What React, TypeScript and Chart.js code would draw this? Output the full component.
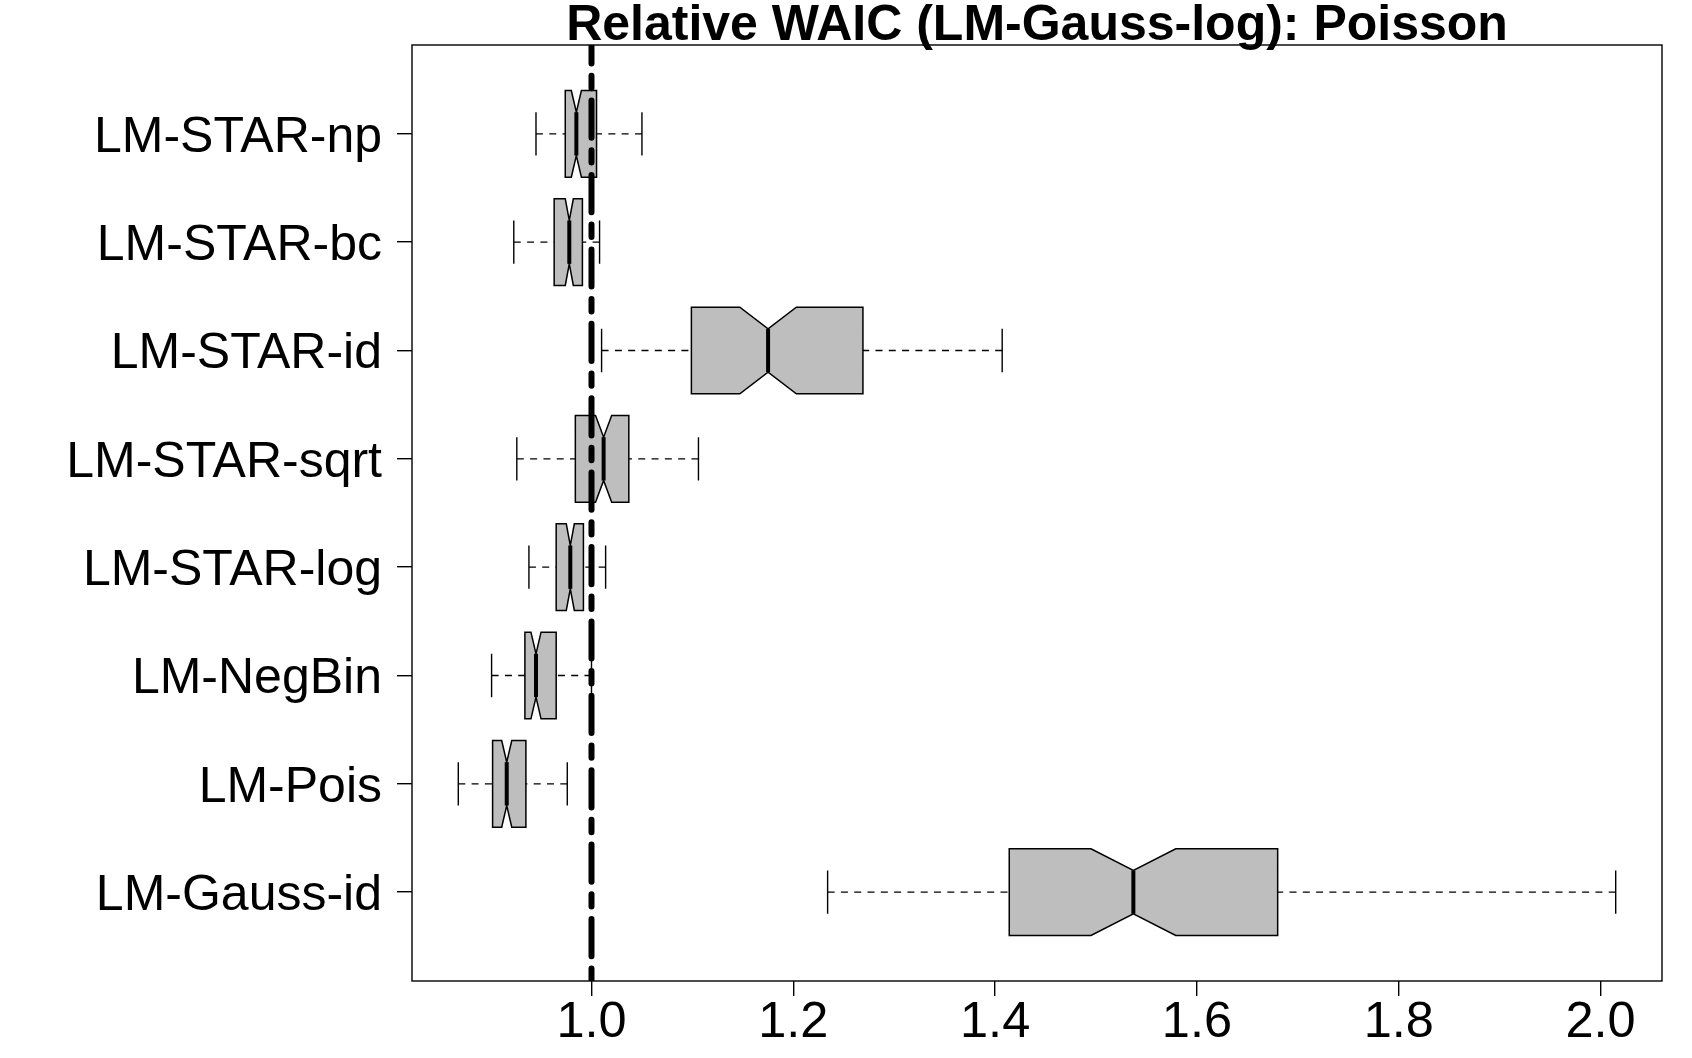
import { useEffect, useRef } from "react";
import { Chart, registerables } from "chart.js";

Chart.register(...registerables);

// Models, bottom (position 1) to top (position 8)
const models = [
  "LM-Gauss-id",
  "LM-Pois",
  "LM-NegBin",
  "LM-STAR-log",
  "LM-STAR-sqrt",
  "LM-STAR-id",
  "LM-STAR-bc",
  "LM-STAR-np",
];

// Five-number summaries of relative WAIC per model
const whiskerLow = [1.234, 0.868, 0.901, 0.938, 0.926, 1.01, 0.923, 0.945];
const quartile1 = [1.414, 0.902, 0.934, 0.965, 0.984, 1.099, 0.963, 0.974];
const medians = [1.537, 0.916, 0.945, 0.979, 1.012, 1.175, 0.978, 0.985];
const quartile3 = [1.68, 0.935, 0.965, 0.992, 1.037, 1.269, 0.991, 1.005];
const whiskerHigh = [2.015, 0.976, 1.0, 1.014, 1.106, 1.407, 1.008, 1.05];

// Notch limits around each median
const notchLow = [1.495, 0.911, 0.94, 0.975, 1.004, 1.147, 0.974, 0.98];
const notchHigh = [1.579, 0.921, 0.95, 0.983, 1.02, 1.203, 0.982, 0.99];

const xTicks = [1.0, 1.2, 1.4, 1.6, 1.8, 2.0];
const referenceValue = 1.0;
const chartTitle = "Relative WAIC (LM-Gauss-log): Poisson";

const FONT = '"Liberation Sans", Arial, Helvetica, sans-serif';
const BOX_FILL = "#BEBEBE";

// x range padded by 4% of the data span, y range padded by 4% around the box slots
const dataMin = Math.min(...whiskerLow);
const dataMax = Math.max(...whiskerHigh);
const xPad = 0.04 * (dataMax - dataMin);
const yMin = 0.5 - 0.04 * models.length;
const yMax = models.length + 0.5 + 0.04 * models.length;

const notchedBoxes = {
  id: "notchedBoxes",
  afterDatasetsDraw(chart: any) {
    const { ctx, chartArea } = chart;
    const xs = chart.scales.x;
    const ys = chart.scales.y;
    const px = (v: number) => xs.getPixelForValue(v);
    const slot = Math.abs(ys.getPixelForValue(1) - ys.getPixelForValue(2));
    const half = slot * 0.4;
    const capHalf = half * 0.5;

    ctx.save();
    ctx.beginPath();
    ctx.rect(chartArea.left, chartArea.top, chartArea.width, chartArea.height);
    ctx.clip();
    ctx.strokeStyle = "#000";

    models.forEach((_, i) => {
      const cy = ys.getPixelForValue(i + 1);

      // notched box
      ctx.setLineDash([]);
      ctx.lineJoin = "miter";
      ctx.beginPath();
      ctx.moveTo(px(quartile1[i]), cy - half);
      ctx.lineTo(px(notchLow[i]), cy - half);
      ctx.lineTo(px(medians[i]), cy - half / 2);
      ctx.lineTo(px(notchHigh[i]), cy - half);
      ctx.lineTo(px(quartile3[i]), cy - half);
      ctx.lineTo(px(quartile3[i]), cy + half);
      ctx.lineTo(px(notchHigh[i]), cy + half);
      ctx.lineTo(px(medians[i]), cy + half / 2);
      ctx.lineTo(px(notchLow[i]), cy + half);
      ctx.lineTo(px(quartile1[i]), cy + half);
      ctx.closePath();
      ctx.fillStyle = BOX_FILL;
      ctx.fill();
      ctx.lineWidth = 1.5;
      ctx.stroke();

      // median
      ctx.lineWidth = 4;
      ctx.lineCap = "butt";
      ctx.beginPath();
      ctx.moveTo(px(medians[i]), cy - half / 2);
      ctx.lineTo(px(medians[i]), cy + half / 2);
      ctx.stroke();

      // whiskers, drawn from the whisker end toward the box
      ctx.lineWidth = 1.4;
      ctx.setLineDash([7, 6.3]);
      ctx.beginPath();
      ctx.moveTo(px(whiskerLow[i]), cy);
      ctx.lineTo(px(quartile1[i]), cy);
      ctx.stroke();
      ctx.beginPath();
      ctx.moveTo(px(whiskerHigh[i]), cy);
      ctx.lineTo(px(quartile3[i]), cy);
      ctx.stroke();

      // staples
      ctx.setLineDash([]);
      ctx.beginPath();
      ctx.moveTo(px(whiskerLow[i]), cy - capHalf);
      ctx.lineTo(px(whiskerLow[i]), cy + capHalf);
      ctx.moveTo(px(whiskerHigh[i]), cy - capHalf);
      ctx.lineTo(px(whiskerHigh[i]), cy + capHalf);
      ctx.stroke();
    });

    // reference line at relative WAIC = 1 (two-dash pattern, drawn upward)
    const rx = px(referenceValue);
    ctx.lineWidth = 6;
    ctx.lineCap = "round";
    ctx.setLineDash([12.4, 12.4, 37.2, 12.4]);
    ctx.beginPath();
    ctx.moveTo(rx, chartArea.bottom);
    ctx.lineTo(rx, chartArea.top);
    ctx.stroke();
    ctx.restore();

    // plot frame
    ctx.save();
    ctx.strokeStyle = "#000";
    ctx.lineWidth = 1.4;
    ctx.setLineDash([]);
    ctx.strokeRect(chartArea.left, chartArea.top, chartArea.width, chartArea.height);
    ctx.restore();
  },
  afterDraw(chart: any) {
    const { ctx, chartArea } = chart;
    ctx.save();
    ctx.fillStyle = "#000";
    ctx.font = `bold 50px ${FONT}`;
    ctx.textAlign = "center";
    ctx.textBaseline = "alphabetic";
    ctx.fillText(chartTitle, (chartArea.left + chartArea.right) / 2, 40);
    ctx.restore();
  },
};

export default function App() {
  const canvasRef = useRef<HTMLCanvasElement | null>(null);

  useEffect(() => {
    const canvas = canvasRef.current;
    if (!canvas) return;
    const chart = new Chart(canvas, {
      type: "scatter",
      data: {
        datasets: [
          {
            label: "median",
            data: medians.map((m, i) => ({ x: m, y: i + 1 })),
            pointRadius: 0,
            pointHoverRadius: 0,
            showLine: false,
          },
        ],
      },
      options: {
        responsive: false,
        animation: false,
        devicePixelRatio: 1,
        layout: { padding: { top: 44, right: 30, left: 0, bottom: 0 } },
        plugins: {
          legend: { display: false },
          tooltip: { enabled: false },
          title: { display: false },
        },
        scales: {
          x: {
            type: "linear",
            min: dataMin - xPad,
            max: dataMax + xPad,
            afterBuildTicks: (scale: any) => {
              scale.ticks = xTicks.map((v) => ({ value: v }));
            },
            afterFit: (scale: any) => {
              scale.height = 77;
            },
            border: { display: false },
            grid: {
              display: true,
              drawOnChartArea: false,
              drawTicks: true,
              tickLength: 15,
              color: "#000",
              lineWidth: 1.4,
            },
            ticks: {
              autoSkip: false,
              maxRotation: 0,
              padding: -3,
              color: "#000",
              font: { family: FONT, size: 50.5 },
              callback: (v: any) => Number(v).toFixed(1),
            },
          },
          y: {
            type: "linear",
            min: yMin,
            max: yMax,
            afterBuildTicks: (scale: any) => {
              scale.ticks = models.map((_, i) => ({ value: i + 1 }));
            },
            afterFit: (scale: any) => {
              scale.width = 412;
            },
            border: { display: false },
            grid: {
              display: true,
              drawOnChartArea: false,
              drawTicks: true,
              tickLength: 15,
              color: "#000",
              lineWidth: 1.4,
            },
            ticks: {
              autoSkip: false,
              padding: 15,
              labelOffset: 4,
              color: "#000",
              font: { family: FONT, size: 50 },
              callback: (v: any) => models[Math.round(Number(v)) - 1] ?? "",
            },
          },
        },
      },
      plugins: [notchedBoxes],
    });
    return () => chart.destroy();
  }, []);

  return (
    <div style={{ position: "fixed", left: 0, top: 0, width: 1692, height: 1058, background: "#fff" }}>
      <canvas ref={canvasRef} width={1692} height={1058} style={{ display: "block" }} />
    </div>
  );
}
